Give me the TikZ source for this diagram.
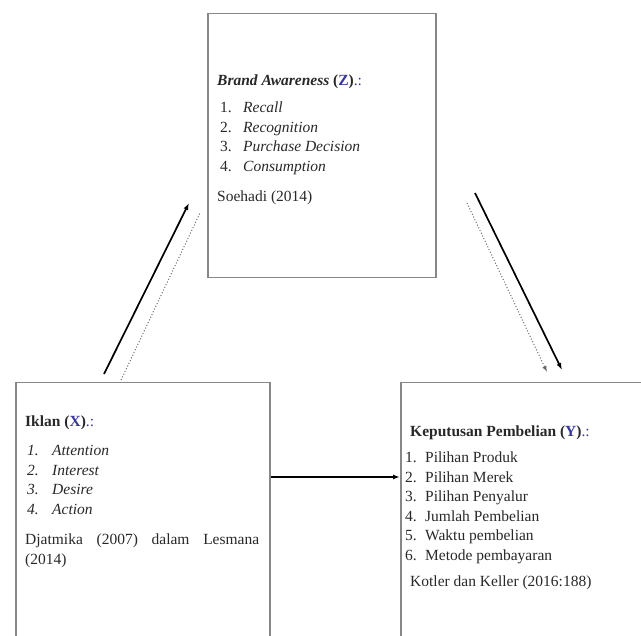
\documentclass[tikz,border=0pt]{standalone}
\usepackage{fontspec}
\setmainfont{Liberation Serif}
\usetikzlibrary{arrows.meta}
\definecolor{boxgray}{RGB}{135,135,135}
\definecolor{inkgray}{RGB}{40,40,40}
\definecolor{markblue}{RGB}{55,55,150}
\tikzset{
  varbox/.style={draw=boxgray, line width=1.5pt, anchor=north west, inner sep=0pt},
  txt/.style={anchor=base west, inner sep=0pt, text=inkgray, font=\fontsize{15.5}{19.5}\selectfont},
  link/.style={line width=1.7pt, -{Latex[length=7pt,width=5pt]}},
  weak/.style={dotted, line width=1pt, draw=black!60},
}

\begin{document}
\begin{tikzpicture}[x=1pt,y=-1pt]
  \clip (0,0) rectangle (641,636);
  % variable boxes
  \node[varbox, minimum width=228pt, minimum height=264pt] (awareness) at (207,13) {};
  \node[varbox, minimum width=254pt, minimum height=280pt] (iklan) at (15,382) {};
  \node[varbox, minimum width=260pt, minimum height=280pt] (keputusan) at (400,382) {};

  % Brand Awareness (Z)
  \node[txt] (zhead) at (217,86) {\textbf{\textit{Brand Awareness}} \textbf{(\textcolor{markblue}{Z})}\textcolor{markblue}{.:}};
  \node[txt] (zlist) at (220,113) {\begin{tabular}[t]{@{}p{23pt}@{}l@{}}
      1. & \textit{Recall}\\
      2. & \textit{Recognition}\\
      3. & \textit{Purchase Decision}\\
      4. & \textit{Consumption}
    \end{tabular}};
  \node[txt] (zref) at (217,202) {Soehadi (2014)};

  % Iklan (X)
  \node[txt] (xhead) at (25,427) {\textbf{Iklan} \textbf{(\textcolor{markblue}{X})}\textcolor{markblue}{.:}};
  \node[txt] (xlist) at (27,456) {\begin{tabular}[t]{@{}p{25pt}@{}l@{}}
      \textit{1.} & \textit{Attention}\\
      \textit{2.} & \textit{Interest}\\
      \textit{3.} & \textit{Desire}\\
      \textit{4.} & \textit{Action}
    \end{tabular}};
  \node[txt] (xref) at (25,545) {\begin{tabular}[t]{@{}l@{}}
      \makebox[234pt][s]{Djatmika (2007) dalam Lesmana}\\
      (2014)
    \end{tabular}};

  % Keputusan Pembelian (Y)
  \node[txt] (yhead) at (410,437) {\textbf{Keputusan Pembelian} \textbf{(\textcolor{markblue}{Y})}\textcolor{markblue}{.:}};
  \node[txt] (ylist) at (405,463) {\begin{tabular}[t]{@{}p{20pt}@{}l@{}}
      1. & Pilihan Produk\\
      2. & Pilihan Merek\\
      3. & Pilihan Penyalur\\
      4. & Jumlah Pembelian\\
      5. & Waktu pembelian\\
      6. & Metode pembayaran
    \end{tabular}};
  \node[txt] (yref) at (410,587) {Kotler dan Keller (2016:188)};

  % connectors
  \coordinate (xz tail) at (104,374);
  \coordinate (xz tip) at (189,203);
  \coordinate (xz dot tail) at (121,380);
  \coordinate (xz dot tip) at (200,213);
  \coordinate (zy tail) at (475,193);
  \coordinate (zy tip) at (562,370);
  \coordinate (zy dot tail) at (467,203);
  \coordinate (zy dot tip) at (547,372);
  \coordinate (xy level) at (0,477);

  \draw[link] (xz tail) -- (xz tip);
  \draw[weak] (xz dot tail) -- (xz dot tip);
  \draw[link] (zy tail) -- (zy tip);
  \draw[weak, -{Latex[length=6pt,width=4.5pt]}] (zy dot tail) -- (zy dot tip);
  \draw[link] (iklan.east |- xy level) -- (keputusan.west |- xy level);
\end{tikzpicture}
\end{document}
